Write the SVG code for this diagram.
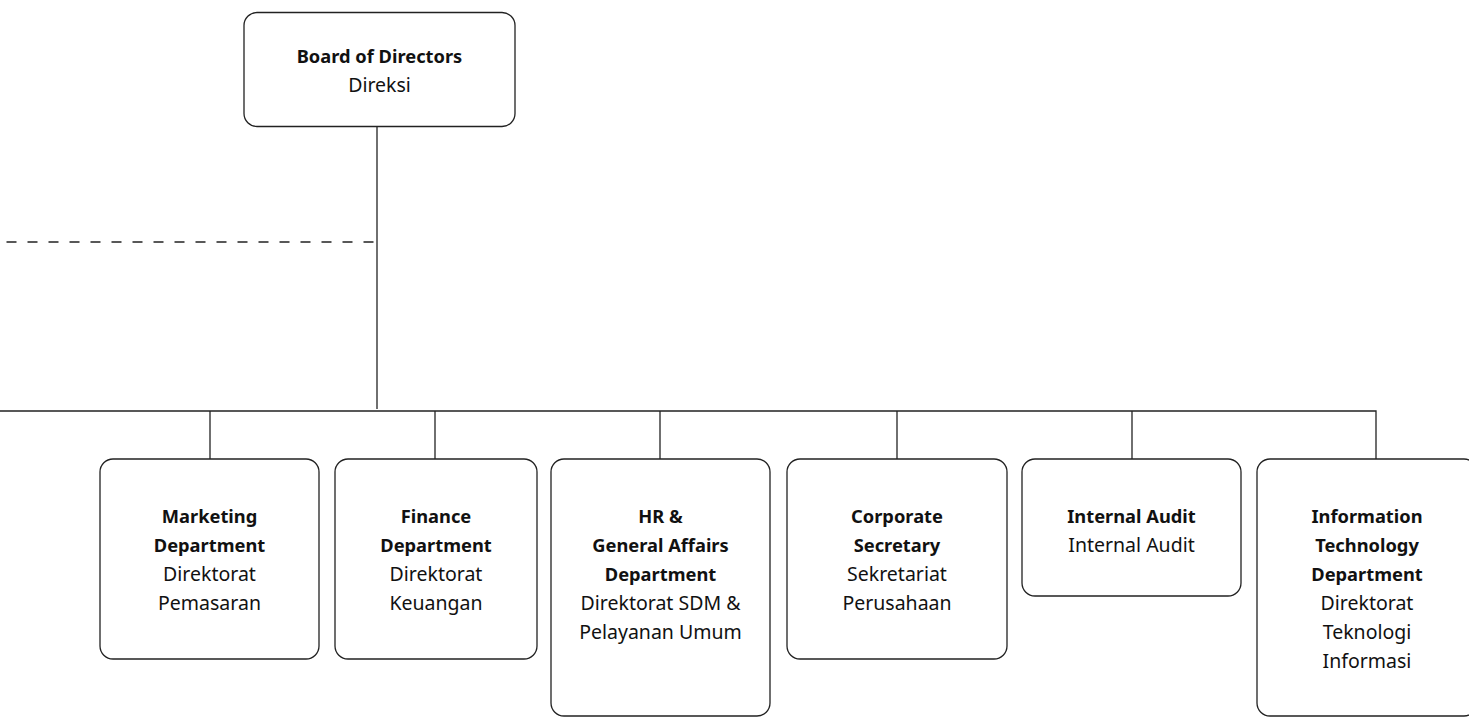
<svg xmlns="http://www.w3.org/2000/svg" width="1469" height="717" viewBox="0 0 1469 717">
<style>
.box{fill:#fff;stroke:#222;stroke-width:1.3}
.ln{fill:none;stroke:#222;stroke-width:1.3}
.dash{fill:none;stroke:#222;stroke-width:1.3;stroke-dasharray:10 11}
text{font-family:"Noto Sans","Open Sans",sans-serif;font-size:19.5px;fill:#111;text-anchor:middle}
.b{font-weight:bold;font-size:18.3px}
</style>
<rect width="1469" height="717" fill="#fff"/>
<g id="connectors">
<line class="dash" x1="6.5" y1="242" x2="377" y2="242"/>
<line class="ln" x1="377" y1="126" x2="377" y2="409"/>
<polyline class="ln" points="0,411 1376,411 1376,459"/>
<line class="ln" x1="210" y1="411" x2="210" y2="459"/>
<line class="ln" x1="435" y1="411" x2="435" y2="470"/>
<line class="ln" x1="660" y1="411" x2="660" y2="459"/>
<line class="ln" x1="897" y1="411" x2="897" y2="459"/>
<line class="ln" x1="1132" y1="411" x2="1132" y2="459"/>
</g>
<g id="board">
<rect class="box" x="244" y="12.5" width="271" height="114" rx="13"/>
<text x="379.5" y="63" class="b">Board of Directors</text>
<text x="379.5" y="92">Direksi</text>
</g>
<g id="marketing">
<rect class="box" x="100" y="459" width="219" height="200" rx="13"/>
<text x="209.5" y="523" class="b">Marketing</text>
<text x="209.5" y="552" class="b">Department</text>
<text x="209.5" y="581">Direktorat</text>
<text x="209.5" y="610">Pemasaran</text>
</g>
<g id="finance">
<rect class="box" x="335" y="459" width="202" height="200" rx="13"/>
<text x="436" y="523" class="b">Finance</text>
<text x="436" y="552" class="b">Department</text>
<text x="436" y="581">Direktorat</text>
<text x="436" y="610">Keuangan</text>
</g>
<g id="hr">
<rect class="box" x="551" y="459" width="219" height="257" rx="13"/>
<text x="660.5" y="523" class="b">HR &amp;</text>
<text x="660.5" y="552" class="b">General Affairs</text>
<text x="660.5" y="581" class="b">Department</text>
<text x="660.5" y="610">Direktorat SDM &amp;</text>
<text x="660.5" y="639">Pelayanan Umum</text>
</g>
<g id="corporate">
<rect class="box" x="787" y="459" width="220" height="200" rx="13"/>
<text x="897" y="523" class="b">Corporate</text>
<text x="897" y="552" class="b">Secretary</text>
<text x="897" y="581">Sekretariat</text>
<text x="897" y="610">Perusahaan</text>
</g>
<g id="audit">
<rect class="box" x="1022" y="459" width="219" height="137" rx="13"/>
<text x="1131.5" y="523" class="b">Internal Audit</text>
<text x="1131.5" y="552">Internal Audit</text>
</g>
<g id="it">
<rect class="box" x="1257" y="459" width="220" height="257" rx="13"/>
<text x="1367" y="523" class="b">Information</text>
<text x="1367" y="552" class="b">Technology</text>
<text x="1367" y="581" class="b">Department</text>
<text x="1367" y="610">Direktorat</text>
<text x="1367" y="639">Teknologi</text>
<text x="1367" y="668">Informasi</text>
</g>
</svg>
